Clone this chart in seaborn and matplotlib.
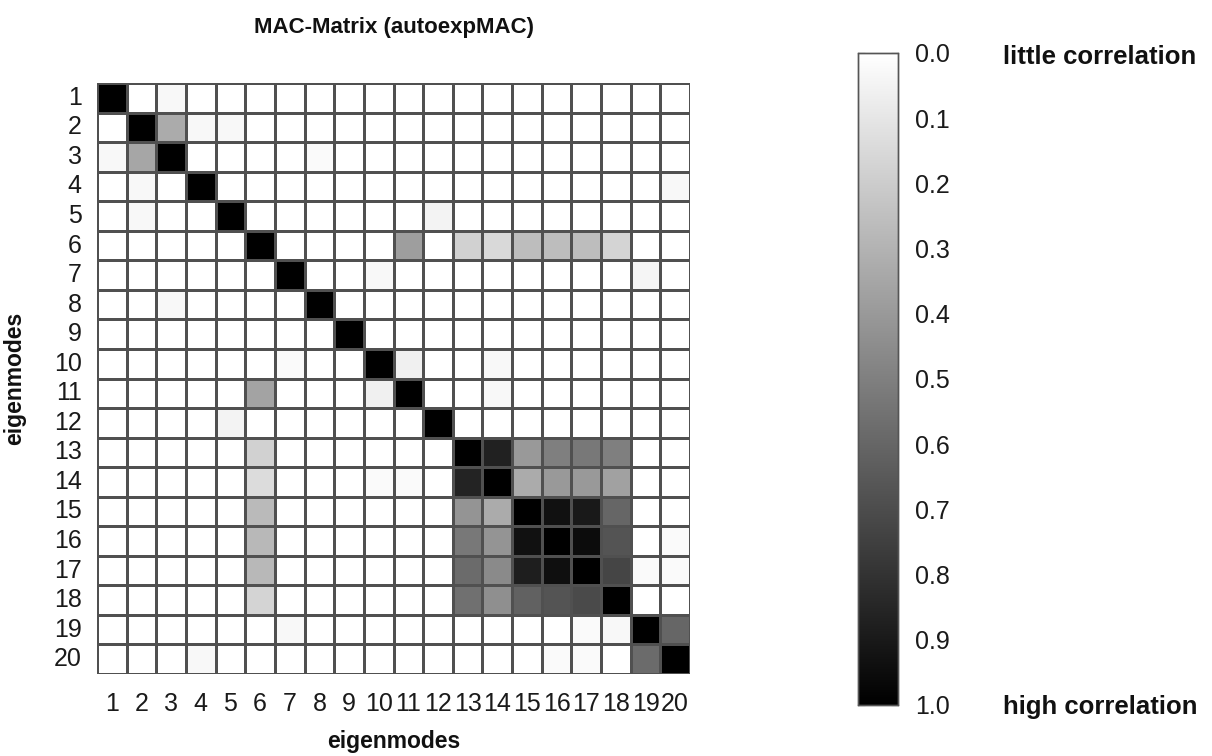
import numpy as np
import pandas as pd
import seaborn as sns
import matplotlib
matplotlib.use("Agg")
import matplotlib.pyplot as plt

# MAC values (row = mode i, column = mode j)
modes = [str(i) for i in range(1, 21)]
mac_rows = [
    [1.00, 0.00, 0.03, 0.00, 0.00, 0.00, 0.00, 0.00, 0.00, 0.00, 0.00, 0.00, 0.00, 0.00, 0.00, 0.00, 0.00, 0.00, 0.00, 0.00],
    [0.00, 1.00, 0.33, 0.03, 0.03, 0.00, 0.00, 0.00, 0.00, 0.00, 0.00, 0.00, 0.00, 0.00, 0.00, 0.00, 0.00, 0.00, 0.00, 0.00],
    [0.03, 0.35, 1.00, 0.00, 0.00, 0.00, 0.00, 0.02, 0.00, 0.00, 0.00, 0.00, 0.00, 0.00, 0.00, 0.00, 0.00, 0.00, 0.00, 0.00],
    [0.00, 0.03, 0.00, 1.00, 0.00, 0.00, 0.00, 0.00, 0.00, 0.00, 0.00, 0.00, 0.00, 0.00, 0.00, 0.00, 0.00, 0.00, 0.00, 0.03],
    [0.00, 0.03, 0.00, 0.00, 1.00, 0.00, 0.00, 0.00, 0.00, 0.00, 0.00, 0.05, 0.00, 0.00, 0.00, 0.00, 0.00, 0.00, 0.00, 0.00],
    [0.00, 0.00, 0.00, 0.00, 0.00, 1.00, 0.00, 0.00, 0.00, 0.00, 0.38, 0.00, 0.18, 0.15, 0.26, 0.26, 0.26, 0.17, 0.00, 0.00],
    [0.00, 0.00, 0.00, 0.00, 0.00, 0.00, 1.00, 0.00, 0.00, 0.03, 0.00, 0.00, 0.00, 0.00, 0.00, 0.00, 0.00, 0.00, 0.04, 0.00],
    [0.00, 0.00, 0.03, 0.00, 0.00, 0.00, 0.00, 1.00, 0.00, 0.00, 0.00, 0.00, 0.00, 0.00, 0.00, 0.00, 0.00, 0.00, 0.00, 0.00],
    [0.00, 0.00, 0.00, 0.00, 0.00, 0.00, 0.00, 0.00, 1.00, 0.00, 0.00, 0.00, 0.00, 0.00, 0.00, 0.00, 0.00, 0.00, 0.00, 0.00],
    [0.00, 0.00, 0.00, 0.00, 0.00, 0.00, 0.02, 0.00, 0.00, 1.00, 0.06, 0.00, 0.00, 0.03, 0.00, 0.00, 0.00, 0.00, 0.00, 0.00],
    [0.00, 0.00, 0.00, 0.00, 0.00, 0.36, 0.00, 0.00, 0.00, 0.06, 1.00, 0.00, 0.00, 0.03, 0.00, 0.00, 0.00, 0.00, 0.00, 0.00],
    [0.00, 0.00, 0.00, 0.00, 0.05, 0.00, 0.00, 0.00, 0.00, 0.00, 0.00, 1.00, 0.00, 0.00, 0.00, 0.00, 0.00, 0.00, 0.00, 0.00],
    [0.00, 0.00, 0.00, 0.00, 0.00, 0.18, 0.00, 0.00, 0.00, 0.00, 0.00, 0.00, 1.00, 0.87, 0.40, 0.50, 0.53, 0.50, 0.00, 0.00],
    [0.00, 0.00, 0.00, 0.00, 0.00, 0.14, 0.00, 0.00, 0.00, 0.02, 0.02, 0.00, 0.86, 1.00, 0.33, 0.40, 0.40, 0.37, 0.00, 0.00],
    [0.00, 0.00, 0.00, 0.00, 0.00, 0.27, 0.00, 0.00, 0.00, 0.00, 0.00, 0.00, 0.42, 0.33, 1.00, 0.93, 0.90, 0.60, 0.00, 0.00],
    [0.00, 0.00, 0.00, 0.00, 0.00, 0.28, 0.00, 0.00, 0.00, 0.00, 0.00, 0.00, 0.53, 0.42, 0.93, 1.00, 0.95, 0.67, 0.00, 0.02],
    [0.00, 0.00, 0.00, 0.00, 0.00, 0.28, 0.00, 0.00, 0.00, 0.00, 0.00, 0.00, 0.58, 0.46, 0.88, 0.94, 1.00, 0.73, 0.02, 0.02],
    [0.00, 0.00, 0.00, 0.00, 0.00, 0.17, 0.00, 0.00, 0.00, 0.00, 0.00, 0.00, 0.56, 0.44, 0.62, 0.67, 0.71, 1.00, 0.00, 0.00],
    [0.00, 0.00, 0.00, 0.00, 0.00, 0.00, 0.03, 0.00, 0.00, 0.00, 0.00, 0.00, 0.00, 0.00, 0.00, 0.00, 0.02, 0.03, 1.00, 0.60],
    [0.00, 0.00, 0.00, 0.03, 0.00, 0.00, 0.00, 0.00, 0.00, 0.00, 0.00, 0.00, 0.00, 0.00, 0.00, 0.02, 0.02, 0.00, 0.58, 1.00],
]
cbar_ticks = [0.0, 0.1, 0.2, 0.3, 0.4, 0.5, 0.6, 0.7, 0.8, 0.9, 1.0]

mac = pd.DataFrame(mac_rows, index=modes, columns=modes)

sns.set_theme(style="white")
plt.rcParams['font.family'] = ['Liberation Sans', 'DejaVu Sans']

W, H = 1212, 756
fig = plt.figure(figsize=(W / 100, H / 100), dpi=100)
ax = fig.add_axes([97 / W, 1 - 674 / H, (690 - 97) / W, (674 - 83) / H])
cax = fig.add_axes([858 / W, 1 - 705 / H, (898 - 858) / W, (705 - 53) / H])

sns.heatmap(mac, ax=ax, cmap='gray_r', vmin=0, vmax=1, linewidths=0.8, linecolor='#505050',
            cbar_ax=cax, cbar_kws={'ticks': cbar_ticks})

ax.tick_params(axis='both', length=0, labelsize=18, colors='#1a1a1a')
ax.tick_params(axis='x', pad=13, rotation=0)
ax.tick_params(axis='y', pad=11, rotation=0)
ax.set_title('MAC-Matrix (autoexpMAC)', fontsize=16, fontweight='bold', pad=36, color='#111')
ax.set_xlabel('eigenmodes', fontsize=16.5, fontweight='bold', labelpad=10, color='#111')
ax.set_ylabel('eigenmodes', fontsize=16.5, fontweight='bold', labelpad=20, color='#111')

cax.invert_yaxis()
cax.set_yticklabels([f'{t:.1f}' for t in cbar_ticks])
cax.tick_params(axis='y', which='both', direction='in', length=5, width=0.8, color='#555',
                labelsize=18, labelcolor='#1a1a1a', pad=12, left=True, right=True)
for s in cax.spines.values():
    s.set_visible(True)
    s.set_color('#555')
    s.set_linewidth(1.0)

fig.text(1003 / W, 1 - 57 / H, 'little correlation', fontsize=18.5, fontweight='bold',
         ha='left', va='center', color='#111')
fig.text(1003 / W, 1 - 707 / H, 'high correlation', fontsize=18.5, fontweight='bold',
         ha='left', va='center', color='#111')

fig.savefig('out.png', dpi=100, facecolor='white')
